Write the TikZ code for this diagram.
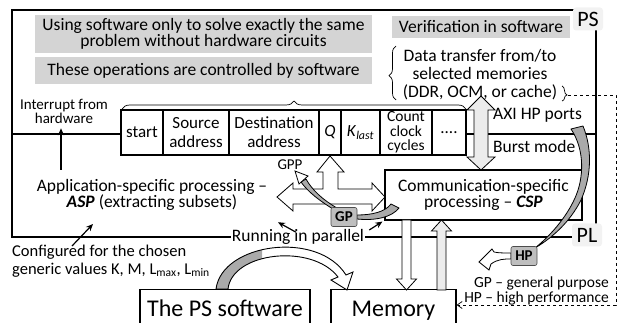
\documentclass[tikz,border=0pt]{standalone}
\usepackage{fontspec}
\setmainfont{Carlito}
\usetikzlibrary{arrows.meta,decorations.pathreplacing,calc}
\definecolor{boxgray}{RGB}{212,212,212}
\definecolor{taggray}{RGB}{190,190,190}
\definecolor{labelbg}{RGB}{242,242,242}
\definecolor{ribbongray}{RGB}{170,170,170}
\definecolor{arrowfill}{RGB}{236,236,236}
\tikzset{
  txt/.style={inner sep=0pt, align=center, font=\fontsize{17.5}{16}\selectfont},
  small/.style={inner sep=0pt, align=center, font=\fontsize{15}{12.5}\selectfont},
  graybox/.style={fill=boxgray, inner sep=0pt, align=center, font=\fontsize{17.5}{16.5}\selectfont},
  cell/.style={draw, line width=1.2pt, minimum height=45pt, inner sep=0pt, outer sep=0pt,
    align=center, anchor=north west, font=\fontsize{17}{19}\selectfont},
  bigbox/.style={draw, line width=1.2pt, anchor=north, inner ysep=9pt, text height=18pt,
    text depth=6pt, font=\fontsize{24}{24}\selectfont},
  tag/.style={fill=taggray, draw=black!70, line width=0.6pt, rounded corners=2pt,
    font=\bfseries\fontsize{15}{15}\selectfont, inner sep=0pt, minimum width=26pt, minimum height=19pt},
  seclabel/.style={fill=labelbg, rounded corners=3pt, inner sep=0pt,
    minimum width=30pt, minimum height=23pt, font=\fontsize{22}{22}\selectfont},
  frame/.style={line width=1.2pt},
  fatarrow/.style={draw, line width=0.8pt, fill=white, line join=miter},
  ribbon/.style={draw, line width=0.8pt, fill=ribbongray, line join=round},
  blackarrow/.style={-{Stealth[length=7pt,width=6pt]}, line width=1.2pt},
  bracedeco/.style={decorate, line width=0.7pt},
}
\begin{document}
\begin{tikzpicture}[x=1pt,y=-1pt]
\useasboundingbox (0,0) rectangle (622,323);

% outer frame of the PS and PL regions
\draw[frame] (12,10) rectangle (596,237);

% register table
\node[cell, minimum width=42pt] (c1) at (121,110) {start};
\node[cell, minimum width=66pt] (c2) at (c1.north east) {Source\\address};
\node[cell, minimum width=90pt] (c3) at (c2.north east) {Destination\\address};
\node[cell, minimum width=22pt] (c4) at (c3.north east) {\textit{Q}};
\node[cell, minimum width=39pt] (c5) at (c4.north east) {\textit{K}\textsubscript{\textit{last}}};
\node[cell, minimum width=52pt, font=\fontsize{15.5}{14.5}\selectfont] (c6) at (c5.north east) {Count\\clock\\cycles};
\node[cell, minimum width=34pt] (c7) at (c6.north east) {....};

% PS / PL boundary
\coordinate (divL) at (12,134);
\coordinate (divR) at (596,134);
\draw[frame] (divL) -- (divL -| c1.west);
\draw[frame] (divR -| c7.east) -- (divR);

% brace over the table
\draw[bracedeco, decoration={brace, amplitude=8pt, aspect=0.5}]
  ($(c1.north west)+(1,-1)$) -- ($(c7.north east)+(0,-1)$);

% grey statement boxes
\node[graybox, minimum width=337pt, minimum height=38pt] (sw) at (203.5,34)
  {Using software only to solve exactly the same\\problem without hardware circuits};
\node[graybox, minimum width=337pt, minimum height=27pt] (ctl) at (203.5,70.5)
  {These operations are controlled by software};
\node[graybox, minimum width=178pt, minimum height=22pt] (ver) at (481,27)
  {Verification in software};

% data transfer note with its braces
\node[txt, font=\fontsize{17.5}{18}\selectfont] (dt) at (480,75)
  {Data transfer from/to\\selected memories\\(DDR, OCM, or cache)};
\draw[bracedeco, decoration={brace, amplitude=7pt, aspect=0.45}] (396,100) -- (396,46);
\draw[bracedeco, decoration={brace, amplitude=5pt, aspect=0.6}] (562,86) -- (562,101);
\coordinate (dtbrace) at (568,95);

% section labels
\node[seclabel] (ps) at (588,19) {PS};
\node[seclabel] (pl) at (587,235) {PL};

% interrupt note
\node[small] (irq) at (64,111) {Interrupt from\\hardware};
\coordinate (irqsrc) at (61,170);
\draw[blackarrow, shorten >=5pt] (irqsrc) -- (irqsrc |- irq.south);

% application-specific processing
\node[txt] (asp) at (152,195)
  {Application-specific processing --\\\textbf{\textit{ASP}} (extracting subsets)};

% communication-specific processing
\node[draw, line width=1.2pt, minimum width=197pt, minimum height=50pt, inner sep=0pt] (csp) at (483.5,195) {};
\node[txt] (csptxt) at (csp.center) {Communication-specific\\processing -- \textbf{\textit{CSP}}};

% AXI HP port notes
\node[txt, anchor=west] (axi) at (493,115) {AXI HP ports};
\node[txt, anchor=west] (burst) at (493,146) {Burst mode};

% double arrow between memories and CSP
\draw[fatarrow, fill=arrowfill]
  (481,96) -- (495,110) -- (488,110) -- (488,157) -- (495,157) -- (481,170)
  -- (467,157) -- (474,157) -- (474,110) -- (467,110) -- cycle;

% three-way arrow between ASP, Q and CSP
\draw[fatarrow]
  (277,197) -- (293,183) -- (293,189) -- (323,189) -- (323,172) -- (317,172)
  -- (330,156) -- (344,172) -- (338,172) -- (338,189) -- (372,189) -- (372,183)
  -- (385,197) -- (372,211) -- (372,204) -- (293,204) -- (293,211) -- cycle;

% running in parallel
\node[txt, fill=white, inner xsep=1pt] (run) at (298,237) {Running in parallel};
\draw[blackarrow] ($(run.north)+(-2,3)$) -- ++(-18,-10);
\draw[blackarrow] ($(run.east)+(4,-7)$) -- ($(csp.south west)+(-2,1)$);

% configuration note
\node[txt, anchor=west, align=left, font=\fontsize{16.5}{18}\selectfont] (conf) at (12,261)
  {Configured for the chosen\\generic values K, M, L\textsubscript{max}, L\textsubscript{min}};
\draw[blackarrow] (72,246) -- (93,224);

% GP port with its connections
\node[small] (gpp) at (290,165) {GPP};
\draw[ribbon] (333,209) .. controls (320,201) and (308,192) .. (301,182)
  -- (306,179) .. controls (312,190) and (323,200) .. (337,208) -- cycle;
\draw[fatarrow] (295,171) -- (308,176) -- (299,184) -- cycle;
\draw[ribbon] (357,215) .. controls (372,215) and (385,212) .. (391,204)
  -- (399,208) .. controls (392,217) and (376,221) .. (357,219) -- cycle;
\node[tag] (gp) at (344,217) {GP};

% HP port with its connections
\draw[ribbon] (571,129) .. controls (585,150) and (584,178) .. (575,198)
  .. controls (566,218) and (550,236) .. (535,248)
  .. controls (552,238) and (570,222) .. (581,200)
  .. controls (592,175) and (592,148) .. (583,126) -- cycle;
\draw[fatarrow] (511,253) .. controls (504,253) and (498,253) .. (494,252)
  -- (492,249) -- (479,262) -- (489,270) -- (491,264)
  .. controls (498,259) and (504,259) .. (511,259) -- cycle;
\node[tag] (hp) at (524,256) {HP};

% legend
\node[small, align=right, anchor=east, font=\fontsize{15.5}{14.5}\selectfont] (legend) at (609,291)
  {GP -- general purpose\\HP -- high performance};

% bottom boxes
\node[bigbox, minimum width=170pt] (pssw) at (225,289) {The PS software};
\node[bigbox, minimum width=125pt] (mem) at (393.5,289) {Memory};

% arrows between CSP and memory
\draw[fatarrow, fill=white]
  (402,220) -- (411,220) -- (411,279) -- (416.5,279) -- (406.5,290) -- (396.5,279) -- (402,279) -- cycle;
\draw[fatarrow, fill=arrowfill]
  (437,290) -- (446,290) -- (446,231) -- (451.5,231) -- (441.5,220) -- (431.5,231) -- (437,231) -- cycle;

% software-to-memory arrow
\def\swpath{(216,289) .. controls (222,243) and (318,230) .. (346,275) -- (353,272)
  -- (347,290) -- (331,280) -- (338,277) .. controls (312,243) and (232,252) .. (228,289) -- cycle}
\fill[white] \swpath;
\begin{scope}
  \clip (200,230) rectangle (262,295);
  \fill[ribbongray] \swpath;
\end{scope}
\draw[line width=0.9pt, line join=miter] \swpath;

% dashed link from the data transfer note to memory
\draw[dashed, line width=0.7pt, -{Straight Barb[length=5pt,width=7pt]}]
  (dtbrace) -- (616,95) -- (616,305) -- (mem.east |- 0,305);
\end{tikzpicture}
\end{document}
